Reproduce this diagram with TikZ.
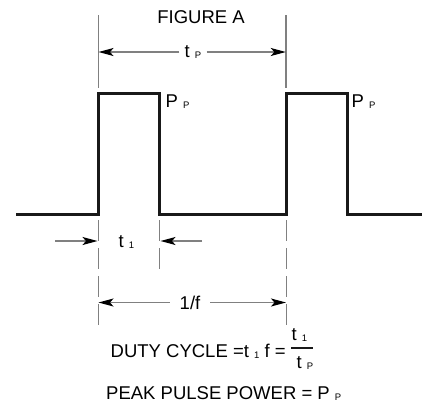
\documentclass[tikz,border=0pt]{standalone}
\usepackage{fontspec}
\setmainfont{Liberation Sans}
\usetikzlibrary{arrows.meta}
\newcommand\mysub[1]{\raisebox{-1bp}{\fontsize{9.5bp}{10bp}\selectfont #1}}
\begin{document}
\begin{tikzpicture}[x=1bp,y=-1bp,
  wave/.style={line width=3bp, black!90, line join=miter},
  guide/.style={line width=1.2bp, black!50},
  guidedash/.style={guide, dash pattern=on 21bp off 7bp},
  dimarrow/.style={line width=1.3bp, black!50, -{Stealth[length=15bp,width=8bp,inset=3.5bp,color=black]}},
  lbl/.style={inner sep=0pt, font=\fontsize{18.5bp}{20bp}\selectfont}]
\useasboundingbox (0,0) rectangle (422,403);
% waveform
\coordinate (w0) at (16,214.5);
\coordinate (r1b) at (98,214.5);
\coordinate (r1t) at (98,93);
\coordinate (f1t) at (159.5,93);
\coordinate (f1b) at (159.5,214.5);
\coordinate (r2b) at (286.3,214.5);
\coordinate (r2t) at (286.3,93);
\coordinate (f2t) at (347,93);
\coordinate (f2b) at (347,214.5);
\coordinate (w1) at (423,214.5);
\draw[wave] (w0) -- (r1b) -- (r1t) -- (f1t) -- (f1b) -- (r2b) -- (r2t) -- (f2t) -- (f2b) -- (w1);
% guides top
\coordinate (gA1) at (98.3,15); \coordinate (gA2) at (98.3,88);
\coordinate (gB1) at (286,15); \coordinate (gB2) at (286,88);
\draw[guide] (gA1) -- (gA2);
\draw[guide] (gB1) -- (gB2);
% guides bottom
\coordinate (dA1) at (98.3,220); \coordinate (dA2) at (98.3,326);
\coordinate (dB1) at (159.5,220); \coordinate (dB2) at (159.5,270);
\coordinate (dC1) at (286.3,220); \coordinate (dC2) at (286.3,326);
\draw[guidedash] (dA1) -- (dA2);
\draw[guidedash] (dB1) -- (dB2);
\draw[guidedash] (dC1) -- (dC2);
% titles
\node[lbl, anchor=base] (fig) at (201,23.3) {FIGURE A};
% t_P
\coordinate (tpL) at (98.5,52);
\coordinate (tpR) at (285.8,52);
\node[lbl, inner xsep=5bp, text height=11bp, text depth=0pt] (tp) at (193,52) {t \mysub{P}};
\draw[dimarrow] (tp) -- (tpL);
\draw[dimarrow] (tp) -- (tpR);
% P_P labels
\node[lbl, anchor=base west] (pp1) at (165.5,107) {P \mysub{P}};
\node[lbl, anchor=base west] (pp2) at (351.5,107) {P \mysub{P}};
% t1
\coordinate (t1La) at (55,241); \coordinate (t1Lb) at (97.5,241);
\coordinate (t1Ra) at (202,241); \coordinate (t1Rb) at (160.5,241);
\draw[dimarrow] (t1La) -- (t1Lb);
\draw[dimarrow] (t1Ra) -- (t1Rb);
\node[lbl, anchor=base west] (t1) at (118.5,247) {t \mysub{1}};
% 1/f
\coordinate (fL) at (98.5,302.5);
\coordinate (fR) at (286,302.5);
\node[lbl, inner xsep=10bp, text height=14bp, text depth=0pt] (ff) at (190,302.5) {1/f};
\draw[dimarrow] (ff) -- (fL);
\draw[dimarrow] (ff) -- (fR);
% duty cycle
\node[lbl, anchor=base west] (duty) at (110.5,357) {DUTY CYCLE =t \mysub{1} f =};
\node[lbl, anchor=base west] (num) at (291.5,340) {t \mysub{1}};
\node[lbl, anchor=base west] (den) at (296.5,368) {t \mysub{P}};
\draw[line width=1.8bp, black!90] (291,348) -- (313,348);
% peak
\node[lbl, anchor=base west] (peak) at (106,399) {PEAK PULSE POWER = P \mysub{P}};
\end{tikzpicture}
\end{document}
